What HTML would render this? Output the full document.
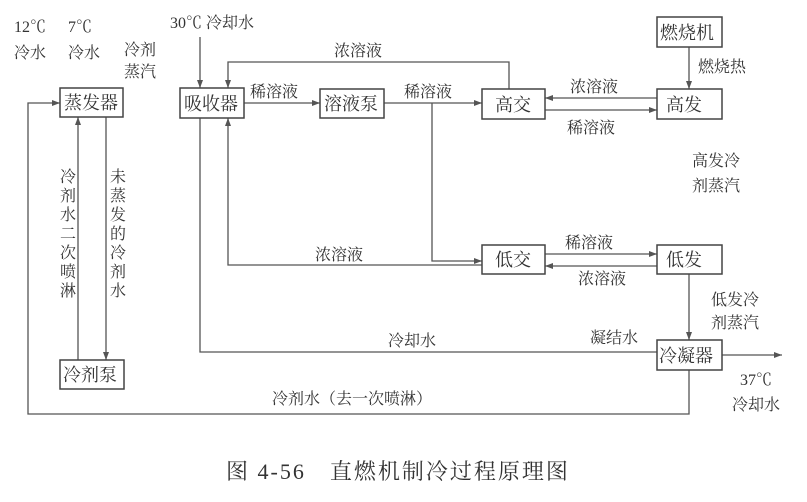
<!DOCTYPE html>
<html><head><meta charset="utf-8"><style>
html,body{margin:0;padding:0;background:#fff}
svg{display:block}
text{font-family:"Liberation Serif","Noto Serif CJK SC","Noto Sans CJK SC",serif;fill:#333;font-size:16px}
text.bx{font-size:18px}
text.cap{font-size:22px;letter-spacing:2px}
.b{fill:#fff;stroke:#444;stroke-width:1.5}
.l{stroke:#555;stroke-width:1.3;fill:none}
</style></head><body>
<svg width="807" height="502" viewBox="0 0 807 502" xmlns="http://www.w3.org/2000/svg">
<defs><marker id="a" markerWidth="8" markerHeight="6" refX="8" refY="3" orient="auto" markerUnits="userSpaceOnUse"><path d="M0,0 L8,3 L0,6 z" fill="#555"/></marker></defs>
<path class="l" d="M200,37 V88" marker-end="url(#a)"/>
<path class="l" d="M509,89 V62 H228 V88" marker-end="url(#a)"/>
<path class="l" d="M244,103 H320" marker-end="url(#a)"/>
<path class="l" d="M384,103 H482" marker-end="url(#a)"/>
<path class="l" d="M432,103 V261 H482" marker-end="url(#a)"/>
<path class="l" d="M657,98 H545" marker-end="url(#a)"/>
<path class="l" d="M545,110 H657" marker-end="url(#a)"/>
<path class="l" d="M689,47 V89" marker-end="url(#a)"/>
<path class="l" d="M545,254 H657" marker-end="url(#a)"/>
<path class="l" d="M657,266 H545" marker-end="url(#a)"/>
<path class="l" d="M482,265 H228 V118" marker-end="url(#a)"/>
<path class="l" d="M200,118 V352 H657"/>
<path class="l" d="M689,274 V340" marker-end="url(#a)"/>
<path class="l" d="M722,355 H782" marker-end="url(#a)"/>
<path class="l" d="M689,370 V414 H28 V103 H60" marker-end="url(#a)"/>
<path class="l" d="M78,360 V117" marker-end="url(#a)"/>
<path class="l" d="M106,117 V360" marker-end="url(#a)"/>
<rect class="b" x="60" y="88" width="63" height="29"/><text class="bx" x="64" y="109">蒸发器</text>
<rect class="b" x="180" y="88" width="64" height="30"/><text class="bx" x="184" y="110">吸收器</text>
<rect class="b" x="320" y="89" width="64" height="29"/><text class="bx" x="324" y="110">溶液泵</text>
<rect class="b" x="482" y="89" width="63" height="30"/><text class="bx" x="495" y="111">高交</text>
<rect class="b" x="657" y="89" width="65" height="30"/><text class="bx" x="666" y="111">高发</text>
<rect class="b" x="657" y="17" width="65" height="30"/><text class="bx" x="660" y="39">燃烧机</text>
<rect class="b" x="482" y="245" width="63" height="29"/><text class="bx" x="495" y="266">低交</text>
<rect class="b" x="657" y="245" width="65" height="29"/><text class="bx" x="666" y="266">低发</text>
<rect class="b" x="657" y="340" width="65" height="30"/><text class="bx" x="659" y="362">冷凝器</text>
<rect class="b" x="60" y="360" width="64" height="29"/><text class="bx" x="63" y="381">冷剂泵</text>
<text x="170" y="28">30℃ 冷却水</text>
<text x="14" y="32">12℃</text><text x="14" y="58">冷水</text>
<text x="68" y="32">7℃</text><text x="68" y="58">冷水</text>
<text x="124" y="55">冷剂</text><text x="124" y="77">蒸汽</text>
<text x="334" y="56">浓溶液</text>
<text x="250" y="97">稀溶液</text>
<text x="404" y="97">稀溶液</text>
<text x="570" y="92">浓溶液</text>
<text x="567" y="133">稀溶液</text>
<text x="698" y="72">燃烧热</text>
<text x="692" y="166">高发冷</text><text x="692" y="191">剂蒸汽</text>
<text x="565" y="248">稀溶液</text>
<text x="578" y="284">浓溶液</text>
<text x="315" y="260">浓溶液</text>
<text x="711" y="305">低发冷</text><text x="711" y="328">剂蒸汽</text>
<text x="590" y="343">凝结水</text>
<text x="388" y="346">冷却水</text>
<text x="740" y="385">37℃</text><text x="732" y="410">冷却水</text>
<text x="272" y="404">冷剂水（去一次喷淋）</text>
<text x="60" y="182">冷</text><text x="60" y="201">剂</text><text x="60" y="220">水</text><text x="60" y="239">二</text><text x="60" y="258">次</text><text x="60" y="277">喷</text><text x="60" y="296">淋</text>
<text x="110" y="182">未</text><text x="110" y="201">蒸</text><text x="110" y="220">发</text><text x="110" y="239">的</text><text x="110" y="258">冷</text><text x="110" y="277">剂</text><text x="110" y="296">水</text>
<text class="cap" x="226" y="479">图 4-56　直燃机制冷过程原理图</text>
</svg>
</body></html>
